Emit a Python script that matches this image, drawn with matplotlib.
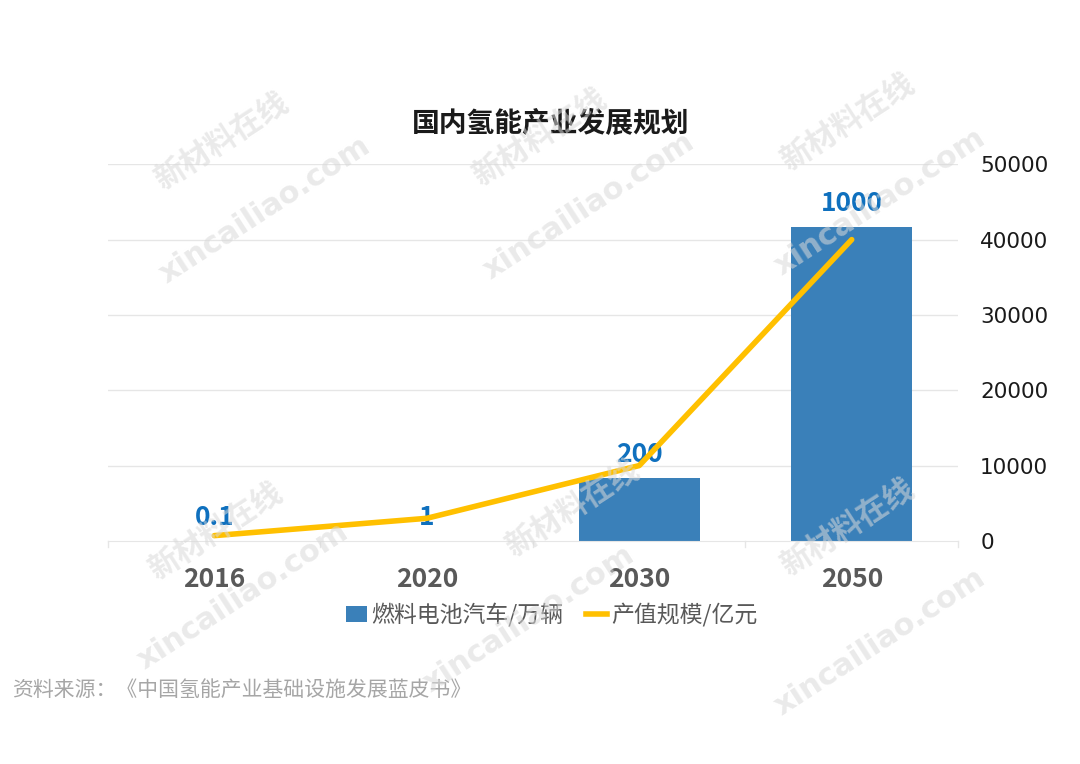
import matplotlib
matplotlib.use('Agg')
import matplotlib.pyplot as plt
import numpy as np
from matplotlib.patches import Patch
from matplotlib.lines import Line2D

plt.rcParams['font.family'] = ['Noto Sans CJK SC', 'DejaVu Sans']

# 数据
years = ['2016', '2020', '2030', '2050']
vehicles = [0.1, 1, 200, 1000]          # 燃料电池汽车/万辆
output_value = [700, 3000, 10000, 40000]  # 产值规模/亿元
right_ticks = [0, 10000, 20000, 30000, 40000, 50000]

bar_color = '#3A80B9'
line_color = '#FFC000'
label_color = '#0F70BE'
gray = '#595959'

fig = plt.figure(figsize=(10.8, 7.64), dpi=100)
ax = fig.add_axes([0.1, 0.292, 0.787, 0.493])
ax2 = ax.twinx()

x = np.arange(len(years))

# 柱子在隐藏的左轴 (0-1200)
ax.bar(x, vehicles, width=0.57, color=bar_color, zorder=2)
ax.set_ylim(0, 1200)
ax.set_xlim(-0.5, 3.5)
ax.set_yticks([])
for s in ['top', 'right', 'left']:
    ax.spines[s].set_visible(False)
ax.spines['bottom'].set_color('#E6E6E6')
ax.set_xticks(x)
ax.set_xticklabels(years, fontsize=19, fontweight='bold', color=gray)
ax.tick_params(axis='x', length=0, pad=18)
# 分类分隔线
for xv in [-0.5, 0.5, 1.5, 2.5, 3.5]:
    ax.plot([xv, xv], [0, -18], color='#E6E6E6', lw=1, clip_on=False)

for xi, v in zip(x, vehicles):
    ax.annotate(str(v), (xi, v), xytext=(0, 7), textcoords='offset points',
                ha='center', va='bottom', fontsize=19, fontweight='bold',
                color=label_color, zorder=5)

# 折线在右轴
ax2.plot(x, output_value, color=line_color, lw=4, zorder=4, solid_capstyle='round')
ax2.set_ylim(0, 50000)
ax2.set_yticks(right_ticks)
ax2.set_yticklabels([str(t) for t in right_ticks], fontsize=15.5, color='#1A1A1A',
                    family=['DejaVu Sans'])
ax2.tick_params(axis='y', length=0, pad=16)
for s in ['top', 'right', 'left', 'bottom']:
    ax2.spines[s].set_visible(False)
for t in right_ticks[1:]:
    ax.axhline(t * 1200 / 50000, color='#E6E6E6', lw=1, zorder=0)

fig.text(0.51, 0.838, '国内氢能产业发展规划', ha='center', va='center',
         fontsize=20, fontweight='bold', color='#1A1A1A')

handles = [Patch(facecolor=bar_color, edgecolor='none'),
           Line2D([0], [0], color=line_color, lw=4)]
fig.legend(handles, ['燃料电池汽车/万辆', '产值规模/亿元'], loc='center',
           bbox_to_anchor=(0.511, 0.195), ncol=2, frameon=False, fontsize=16.5,
           labelcolor=gray, handlelength=0.9, handletextpad=0.2, columnspacing=1.0)

fig.text(0.011, 0.097, '资料来源：《中国氢能产业基础设施发展蓝皮书》', ha='left', va='center',
         fontsize=15, color='#A6A6A6')

# 水印
wm_cn = [(0.205, 0.815), (0.5, 0.82), (0.785, 0.84), (0.2, 0.305), (0.53, 0.335), (0.785, 0.31)]
wm_en = [(0.245, 0.725), (0.545, 0.73), (0.815, 0.735), (0.225, 0.22), (0.49, 0.19), (0.815, 0.16)]
for px, py in wm_cn:
    fig.text(px, py, '新材料在线', fontsize=22, fontweight='bold', color='#D9D9D9',
             alpha=0.55, rotation=33, ha='center', va='center', zorder=10)
for px, py in wm_en:
    fig.text(px, py, 'xincailiao.com', fontsize=22, fontweight='bold', color='#D9D9D9',
             alpha=0.55, rotation=33, ha='center', va='center', zorder=10,
             family=['DejaVu Sans'])

fig.savefig('out.png', dpi=100, facecolor='white')
